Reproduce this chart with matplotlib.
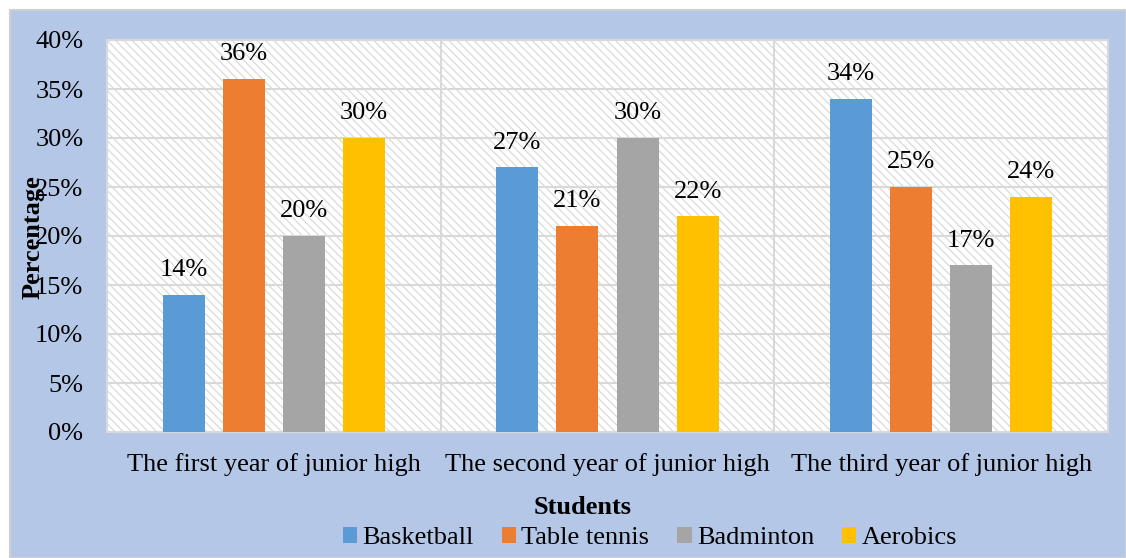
import numpy as np
import matplotlib.pyplot as plt
from matplotlib.patches import Rectangle

plt.rcParams['font.family'] = ['Liberation Serif', 'DejaVu Serif']
plt.rcParams['hatch.linewidth'] = 0.9

# data
categories = ['The first year of junior high', 'The second year of junior high',
              'The third year of junior high']
sports = ['Basketball', 'Table tennis', 'Badminton', 'Aerobics']
basketball = [14, 27, 34]
table_tennis = [36, 21, 25]
badminton = [20, 30, 17]
aerobics = [30, 22, 24]
yticks = [0, 5, 10, 15, 20, 25, 30, 35, 40]

series = [basketball, table_tennis, badminton, aerobics]
colors = ['#5B9BD5', '#ED7D31', '#A5A5A5', '#FFC000']
fs = 19

fig = plt.figure(figsize=(11.26, 5.58), dpi=100)
fig.patch.set_facecolor('white')
# blue chart area with thin grey border
bg = Rectangle((10 / 1126, 0), 1 - 10 / 1126, 1 - 10 / 558,
               transform=fig.transFigure, facecolor='#B4C7E7',
               edgecolor='#D0D0D0', linewidth=1.5, zorder=-10)
fig.add_artist(bg)

ax = fig.add_axes([107 / 1126, 126 / 558, 1001 / 1126, 392 / 558])
ax.set_facecolor('white')
ax.add_patch(Rectangle((0, 0), 1, 1, transform=ax.transAxes, facecolor='none',
                       edgecolor='#DADADA', hatch='\\\\\\\\', linewidth=0, zorder=0.1))

x = np.arange(len(categories))
step = 0.18
width = 0.126
for i, (vals, name, c) in enumerate(zip(series, sports, colors)):
    pos = x + (i - 1.5) * step
    ax.bar(pos, vals, width, color=c, label=name, zorder=3)
    for px, v in zip(pos, vals):
        ax.text(px, v + 1.4, f'{v}%', ha='center', va='bottom', fontsize=fs, zorder=4)

ax.set_xlim(-0.5, 2.5)
ax.set_ylim(0, 40)
ax.set_yticks(yticks)
ax.set_yticklabels([f'{t}%' for t in yticks], fontsize=fs)
ax.set_xticks(x)
ax.set_xticklabels(categories, fontsize=fs)
ax.tick_params(axis='y', length=0, pad=17)
ax.tick_params(axis='x', length=0, pad=15)
ax.grid(axis='y', color='#D9D9D9', linewidth=1.5, zorder=1)
for b in [0.5, 1.5]:
    ax.axvline(b, color='#D9D9D9', linewidth=1.5, zorder=1)
for s in ax.spines.values():
    s.set_color('#D9D9D9')
    s.set_linewidth(1.5)

fig.text(33 / 1126, 1 - 237 / 558, 'Percentage', rotation=90, ha='center', va='center',
         fontsize=fs, fontweight='bold')
fig.text(583 / 1126, 1 - 508 / 558, 'Students', ha='center', va='center',
         fontsize=fs, fontweight='bold')

fig.legend(loc='center', bbox_to_anchor=(650 / 1126, 1 - 538 / 558), ncol=4,
           frameon=False, fontsize=fs, handlelength=0.55, handleheight=0.55,
           handletextpad=0.2, columnspacing=1.05)

fig.savefig('out.png', dpi=100)
